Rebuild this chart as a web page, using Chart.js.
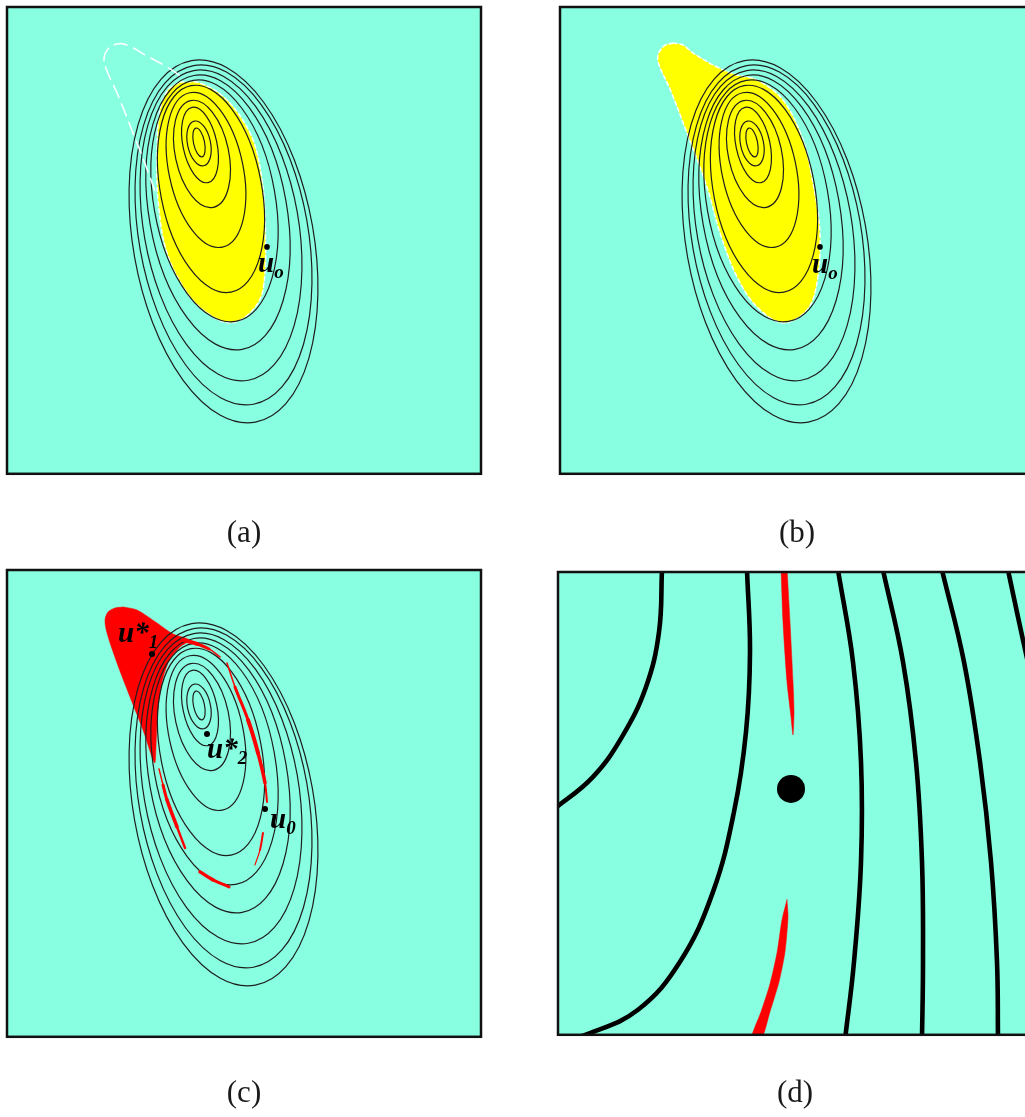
<!DOCTYPE html>
<html>
<head>
<meta charset="utf-8">
<script src="https://cdn.jsdelivr.net/npm/chart.js@4.4.1/dist/chart.umd.min.js"></script>
<style>
  html, body { margin: 0; padding: 0; background: #fff; overflow: hidden; width: 1025px; height: 1117px; }
  .panel { position: absolute; width: 490px; height: 560px; }
</style>
</head>
<body>
<div class="panel" style="left:0;top:0"><canvas id="pa"></canvas></div>
<div class="panel" style="left:550px;top:0"><canvas id="pb"></canvas></div>
<div class="panel" style="left:0;top:560px"><canvas id="pc"></canvas></div>
<div class="panel" style="left:544px;top:558px;width:502px"><canvas id="pd"></canvas></div>
<script>
// level-set ellipses (outer -> inner), panel units
const contourCx    = [216.5, 216.5, 214, 211, 207.5, 204, 199, 195, 193, 192, 192];
const contourCy    = [234.5, 228, 218.5, 205.5, 194, 182, 163, 147, 138, 136.5, 135.5];
const contourMajor = [183.6, 172.0, 157.3, 139.1, 122.4, 105.2, 78.9, 54.6, 38.5, 22.8, 14.7];
const contourMinor = [90.3, 84.6, 77.4, 68.9, 60.8, 50.5, 37.1, 26.7, 17.0, 11.5, 5.5];
const contourTilt  = [10, 10, 10, 10, 10, 11, 12, 12, 12, 12, 12];

// regions
const yellowA = [[173,75],[193,76],[220,93],[243,126],[253,160],[258,210],[256,283],[243,306],[223,316],[200,306],[180,286],[160,246],[151,193],[150,143],[153,103],[161,83],[173,75]];
const lobeOutlineA = [[172,68],[160,60],[140,49],[120,38],[110,37],[101,42],[97,52],[100,64],[110,86],[126,126],[140,162],[150,190]];
const yellowB = [[113,36],[104,39],[98,48],[99,58],[110,82],[127,126],[147,180],[160,226],[177,270],[197,300],[223,316],[247,303],[257,276],[260,226],[253,176],[243,133],[223,93],[197,73],[177,68],[157,60],[133,46],[123,38],[113,36]];
const redLobeC = [[116,37],[130,40],[150,53],[166,64],[182,70],[173,77],[163,89],[156,108],[152,130],[150,153],[149,177],[148,193],[146,190],[136,160],[123,127],[110,93],[100,63],[98,50],[101,42],[108,38],[116,37]];
const redStripC = [[176,70],[190,74],[202,79],[213,87]];
const redRightC = [[220,93],[228,117],[241,150],[251,183],[258,213],[260,232]];
const redLeftC = [[152,199],[156,215],[160,230],[170,257],[178,278]];
const redLowRightC = [[256,263],[253,280],[248,295]];
const redBottomC = [[193,302],[206,310],[222,317]];

// panel (d) close-up curves
const curveD1 = [[104,-2],[101,60],[88,115],[64,165],[35,205],[0,234],[-12,241]];
const curveD2 = [[189,-2],[192,80],[188,160],[176,240],[155,320],[122,390],[80,438],[30,462],[0,470]];
const curveD3 = [[280,-2],[295,90],[303,190],[303,290],[296,390],[287,468]];
const curveD4 = [[325,-2],[345,90],[358,190],[364,290],[365,390],[364,468]];
const curveD5 = [[384,-2],[406,90],[422,190],[433,290],[439,390],[440,468]];
const curveD6 = [[450,-2],[460,45],[472,100]];
const redD1 = [[223,-4],[225,50],[229,110],[233,145],[235,163],[236,140],[235,110],[232,50],[229,-4]];
const redD2 = [[229,328],[230,345],[227,380],[221,410],[212,440],[203,468],[193,468],[203,440],[212,412],[219,381],[224,348],[229,328]];

// marked points
const pointsA = [[260,240]];
const pointsC = [[258,239],[145,84],[200,164]];
const pointsD = [[233,217]];

const captions = ['(a)', '(b)', '(c)', '(d)'];

const AQUA = '#88ffe0';
const toXY = arr => arr.map(p => ({x: p[0], y: p[1]}));

const labelSets = {
  pa: [{x: 251, y: 265, main: 'u', sub: 'o'}],
  pb: [{x: 252, y: 266, main: 'u', sub: 'o'}],
  pc: [{x: 263, y: 258, main: 'u', sub: '0'}, {x: 111, y: 72, main: 'u*', sub: '1'}, {x: 200, y: 188, main: 'u*', sub: '2'}],
  pd: []
};

function drawContours(chart) {
  const {ctx, chartArea: a} = chart;
  const xs = chart.scales.x, ys = chart.scales.y;
  ctx.save();
  ctx.beginPath();
  ctx.rect(a.left, a.top, a.width, a.height);
  ctx.clip();
  ctx.strokeStyle = '#1e1e1e';
  ctx.lineWidth = 1.2;
  for (let i = 0; i < contourCx.length; i++) {
    const px = xs.getPixelForValue(contourCx[i]);
    const py = ys.getPixelForValue(contourCy[i]);
    const rx = Math.abs(xs.getPixelForValue(contourCx[i] + contourMinor[i]) - px);
    const ry = Math.abs(ys.getPixelForValue(contourCy[i] + contourMajor[i]) - py);
    ctx.beginPath();
    ctx.ellipse(px, py, rx, ry, -contourTilt[i] * Math.PI / 180, 0, 2 * Math.PI);
    ctx.stroke();
  }
  ctx.restore();
}

const panelDeco = {
  id: 'panelDeco',
  beforeDraw(chart) {
    const {ctx, chartArea: a} = chart;
    ctx.save();
    ctx.fillStyle = AQUA;
    ctx.fillRect(a.left, a.top, a.width, a.height);
    ctx.restore();
  },
  afterDatasetDraw(chart, args) {
    if (chart.data.datasets[args.index].contoursAfter) drawContours(chart);
  },
  afterDraw(chart) {
    const {ctx, chartArea: a} = chart;
    const xs = chart.scales.x, ys = chart.scales.y;
    ctx.save();
    ctx.fillStyle = '#000';
    ctx.textBaseline = 'alphabetic';
    (labelSets[chart.canvas.id] || []).forEach(l => {
      const px = xs.getPixelForValue(l.x), py = ys.getPixelForValue(l.y);
      ctx.font = 'italic bold 29px "Liberation Serif"';
      ctx.fillText(l.main, px, py);
      const w = ctx.measureText(l.main).width;
      ctx.font = 'italic bold 19px "Liberation Serif"';
      ctx.fillText(l.sub, px + w, py + 6);
    });
    ctx.strokeStyle = '#111';
    ctx.lineWidth = 2.5;
    ctx.strokeRect(a.left, a.top, a.width, a.height);
    ctx.restore();
  }
};

function lineSet(points, color, width, extra) {
  return Object.assign({
    data: toXY(points),
    showLine: true,
    borderColor: color,
    borderWidth: width,
    borderCapStyle: 'round',
    borderJoinStyle: 'round',
    pointRadius: 0,
    tension: 0.4,
    fill: false,
    clip: 0
  }, extra || {});
}

function taper(widths) {
  return { borderWidth: c => widths[c.p0DataIndex] };
}

function dotSet(points, r) {
  return {
    data: toXY(points),
    showLine: false,
    pointRadius: r,
    pointBackgroundColor: '#000',
    pointBorderWidth: 0,
    order: 0,
    clip: false
  };
}

function makeChart(id, caption, pad, xMax, yMax, titlePad, datasets) {
  return new Chart(document.getElementById(id), {
    type: 'scatter',
    data: { datasets: datasets },
    plugins: [panelDeco],
    options: {
      responsive: true,
      maintainAspectRatio: false,
      animation: false,
      events: [],
      layout: { padding: pad },
      plugins: {
        legend: { display: false },
        tooltip: { enabled: false },
        title: {
          display: true,
          position: 'bottom',
          text: caption,
          color: '#1a1a1a',
          font: { family: 'Liberation Serif', size: 31, weight: 'normal' },
          padding: titlePad
        }
      },
      scales: {
        x: { type: 'linear', display: false, min: 0, max: xMax },
        y: { type: 'linear', display: false, min: 0, max: yMax, reverse: true }
      }
    }
  });
}

// (a)
makeChart('pa', captions[0], {left: 7, top: 7, right: 9, bottom: 0}, 474, 467, {top: 41, bottom: 8}, [
  lineSet(yellowA, '#ffffff', 1.5, {fill: 'shape', backgroundColor: '#ffff00', borderDash: [4, 3], tension: 0.35, order: 5, contoursAfter: true}),
  lineSet(lobeOutlineA, 'rgba(255,255,255,0.95)', 1.6, {borderDash: [13, 7], order: 4}),
  dotSet(pointsA, 2.8)
]);

// (b)
makeChart('pb', captions[1], {left: 10, top: 7, right: 6, bottom: 0}, 474, 467, {top: 41, bottom: 8}, [
  lineSet(yellowB, '#ffffff', 1.5, {fill: 'shape', backgroundColor: '#ffff00', borderDash: [4, 3], tension: 0.35, order: 5, contoursAfter: true}),
  dotSet(pointsA, 2.8)
]);

// (c)
makeChart('pc', captions[2], {left: 7, top: 10, right: 9, bottom: 0}, 474, 467, {top: 38, bottom: 8}, [
  lineSet(redLobeC, '#ff0000', 0.5, {fill: 'shape', backgroundColor: '#ff0000', tension: 0.3, order: 5, contoursAfter: true}),
  lineSet(redStripC, '#ff0000', 3, {order: 3, segment: taper([4, 3, 1.5])}),
  lineSet(redRightC, '#ff0000', 3, {order: 3, segment: taper([1.5, 3, 4, 3.5, 2])}),
  lineSet(redLeftC, '#ff0000', 3, {order: 3, segment: taper([1.5, 3, 3.5, 2.5])}),
  lineSet(redLowRightC, '#ff0000', 1.5, {order: 3, segment: taper([2, 1.2])}),
  lineSet(redBottomC, '#ff0000', 3, {order: 3, segment: taper([3.5, 3])}),
  dotSet(pointsC, 3)
]);

// (d) - the big dot sets a 14px minimum padding, so the canvas is offset to compensate
makeChart('pd', captions[3], {left: 14, top: 14, right: 14, bottom: 0}, 474, 463, {top: 40, bottom: 6}, [
  lineSet(redD1, '#ff0000', 0.5, {fill: 'shape', backgroundColor: '#ff0000', tension: 0.25, order: 2}),
  lineSet(redD2, '#ff0000', 0.5, {fill: 'shape', backgroundColor: '#ff0000', tension: 0.25, order: 2}),
  lineSet(curveD1, '#000', 4.6, {order: 3}),
  lineSet(curveD2, '#000', 4.6, {order: 3}),
  lineSet(curveD3, '#000', 4.6, {order: 3}),
  lineSet(curveD4, '#000', 4.6, {order: 3}),
  lineSet(curveD5, '#000', 4.6, {order: 3}),
  lineSet(curveD6, '#000', 4.6, {order: 3}),
  dotSet(pointsD, 14)
]);
</script>
</body>
</html>
